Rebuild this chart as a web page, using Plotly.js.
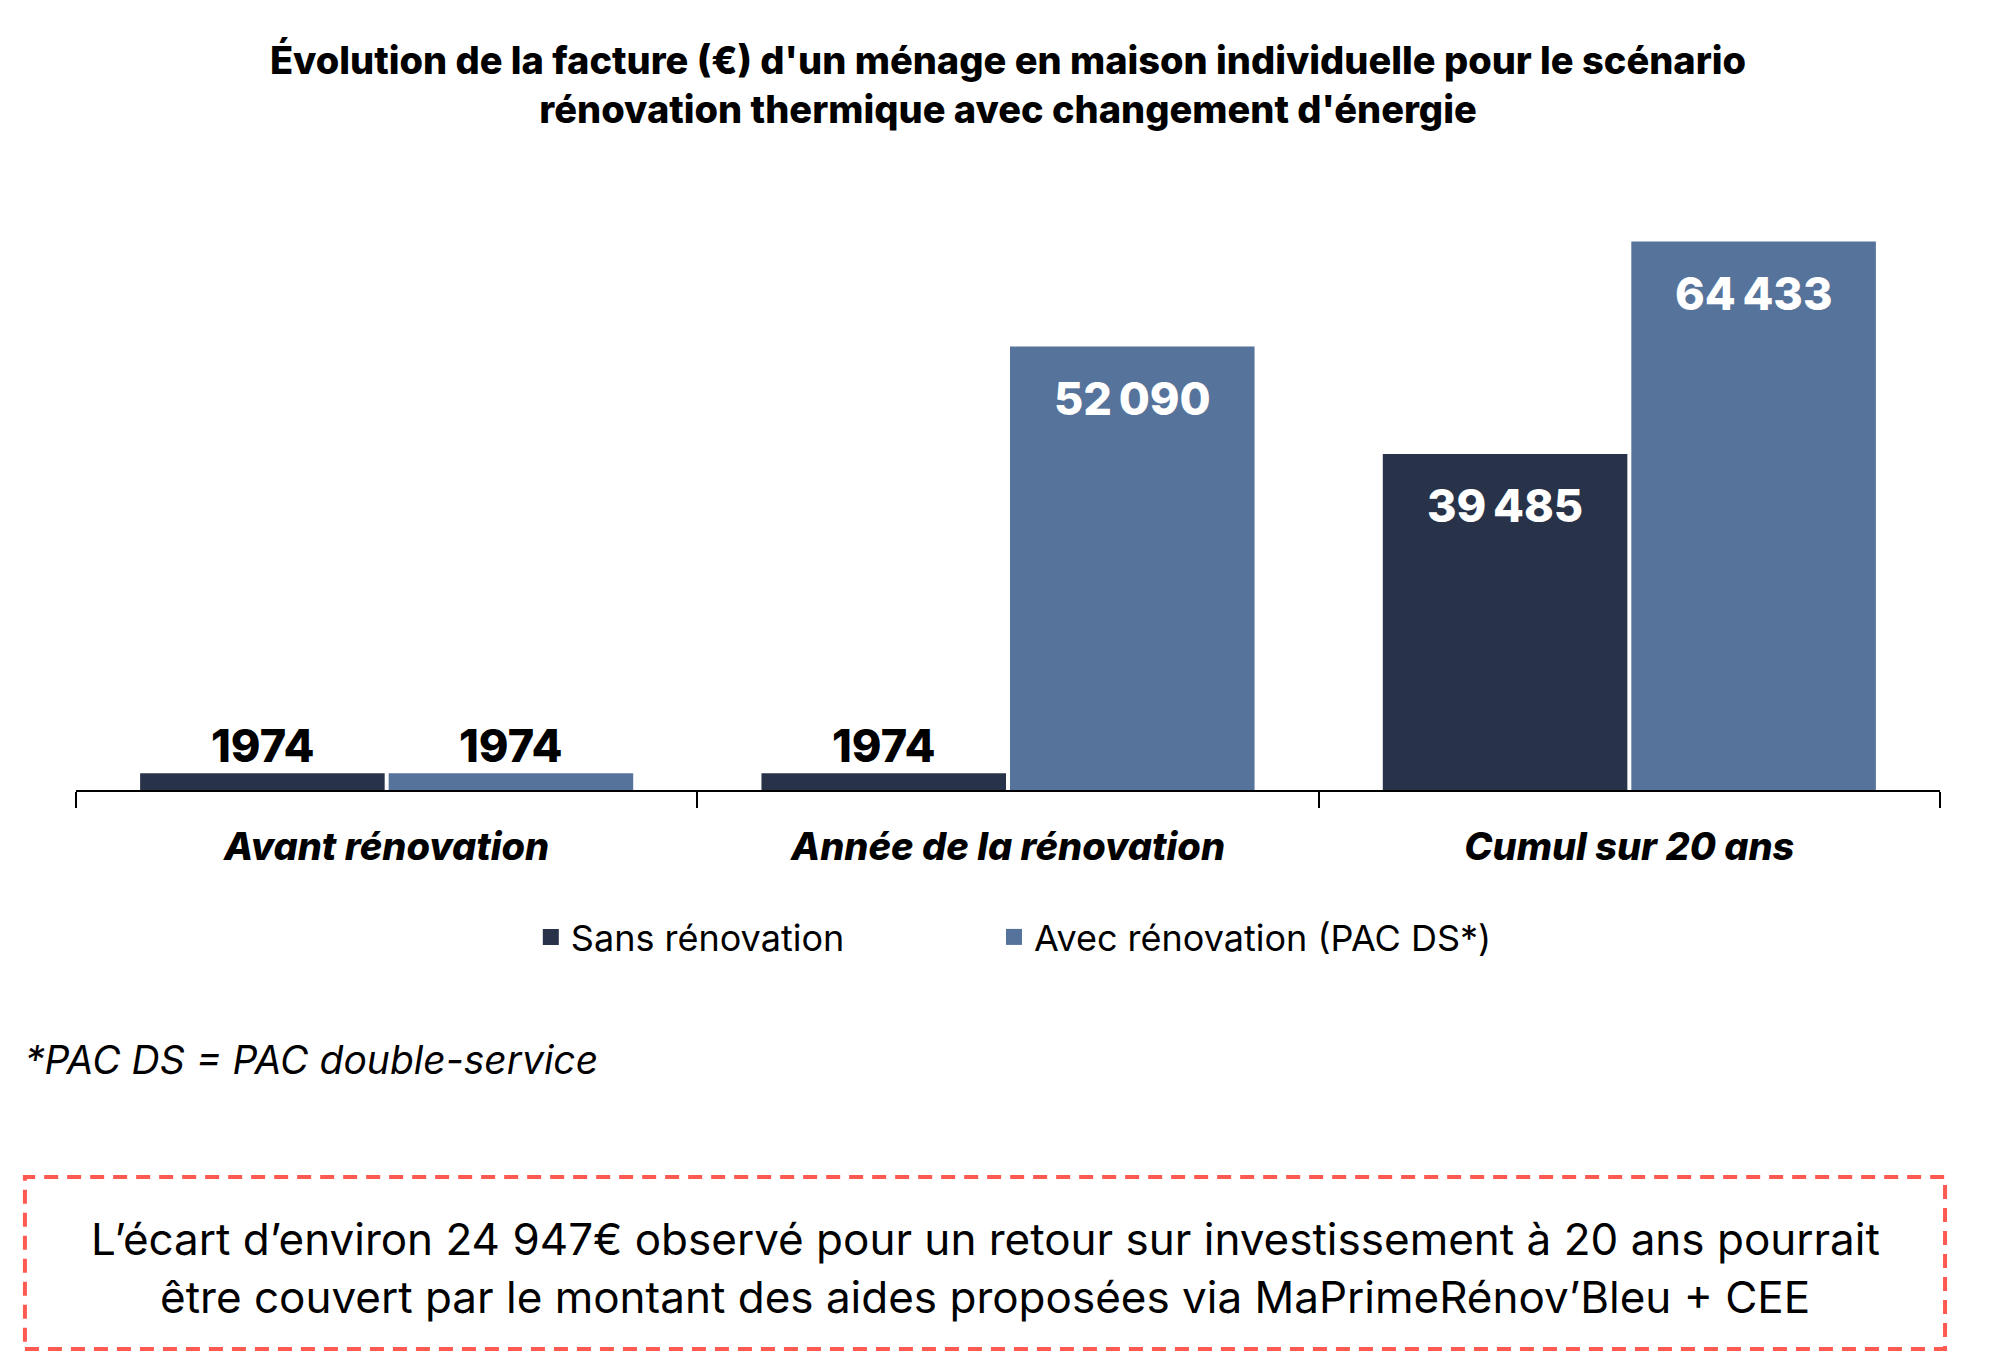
<!DOCTYPE html>
<html>
<head>
<meta charset="utf-8">
<script src="https://cdn.plot.ly/plotly-3.0.1.min.js"></script>
<style>
  html, body { margin: 0; padding: 0; background: #ffffff; }
  #chart { width: 1993px; height: 1356px; }
</style>
</head>
<body>
<div id="chart"></div>
<script>
// ---- Data ----
const categories = ['Avant rénovation', 'Année de la rénovation', 'Cumul sur 20 ans'];
const seriesNames = ['Sans rénovation', 'Avec rénovation (PAC DS*)'];
const sansRenovation = [1974, 1974, 39485];
const avecRenovation = [1974, 52090, 64433];
const titleLines = [
  "Évolution de la facture (€) d'un ménage en maison individuelle pour le scénario",
  "rénovation thermique avec changement d'énergie"
];
const footnote = '*PAC DS = PAC double-service';
const boxLines = [
  'L’écart d’environ 24 947€ observé pour un retour sur investissement à 20 ans pourrait',
  'être couvert par le montant des aides proposées via MaPrimeRénov’Bleu + CEE'
];

// ---- Styles ----
const colors = ['#283349', '#56739B'];
const boldFont = 'Inter, "Noto Sans", sans-serif';
const textFont = 'Inter, "Noto Sans", sans-serif';
const legendIds = ['legend', 'legend2'];
const legendX = [0.244, 0.4925];

function fmt(v) {
  if (v < 10000) return String(v);
  return String(v).replace(/\B(?=(\d{3})+(?!\d))/g, '\u202F');
}

const series = [sansRenovation, avecRenovation];
const traces = series.map((vals, i) => ({
  type: 'bar',
  name: seriesNames[i],
  x: categories,
  y: vals,
  marker: { color: colors[i], line: { width: 0 } },
  showlegend: false,
  hoverinfo: 'skip'
}));
// legend entries (bigger square swatches)
seriesNames.forEach((n, i) => {
  traces.push({
    type: 'scatter', mode: 'markers', name: n,
    x: [null], y: [null],
    marker: { symbol: 'square', size: 16, color: colors[i] },
    showlegend: true, legend: legendIds[i], hoverinfo: 'skip'
  });
});

const annotations = [];
const offsets = [-124, 124];
series.forEach((vals, i) => {
  vals.forEach((v, j) => {
    const inside = v > 10000;
    annotations.push({
      x: categories[j], y: v, xref: 'x', yref: 'y',
      xshift: offsets[i],
      yshift: inside ? -52 : 28,
      yanchor: 'middle', xanchor: 'center',
      text: fmt(v), showarrow: false,
      font: { family: boldFont, size: 45, weight: 800, color: inside ? '#ffffff' : '#000000' }
    });
  });
});

annotations.push({
  x: -0.0285, y: -0.441, xref: 'paper', yref: 'paper',
  xanchor: 'left', yanchor: 'middle', showarrow: false,
  text: footnote,
  font: { family: textFont, size: 39, style: 'italic', color: '#000000' }
});

const boxY = [-0.7365, -0.8316];
boxLines.forEach((t, k) => {
  annotations.push({
    x: 0.4877, y: boxY[k], xref: 'paper', yref: 'paper',
    xanchor: 'center', yanchor: 'middle', showarrow: false,
    text: t,
    font: { family: textFont, size: 44, color: '#000000' }
  });
});

function legendStyle(x) {
  return {
    orientation: 'h',
    x: x, xanchor: 'left',
    y: -0.241, yanchor: 'middle',
    itemsizing: 'trace',
    bgcolor: 'rgba(0,0,0,0)',
    font: { family: textFont, size: 36, color: '#000000' }
  };
}

const layout = {
  width: 1993, height: 1356,
  paper_bgcolor: '#ffffff', plot_bgcolor: '#ffffff',
  margin: { l: 76, r: 53, t: 180, b: 566, pad: 0 },
  title: {
    text: titleLines.join('<br>'),
    x: 0.5, xref: 'paper', xanchor: 'center',
    y: 0.9455, yref: 'container', yanchor: 'top',
    font: { family: boldFont, size: 38, weight: 800, color: '#000000' }
  },
  barmode: 'group',
  bargap: 0.2,
  bargroupgap: 0.016,
  showlegend: true,
  legend: legendStyle(legendX[0]),
  legend2: legendStyle(legendX[1]),
  xaxis: {
    type: 'category',
    showline: true, linecolor: '#000000', linewidth: 2,
    ticks: 'outside', tickson: 'boundaries', ticklen: 16, tickwidth: 2, tickcolor: '#000000',
    ticklabelstandoff: 22,
    tickfont: { family: boldFont, size: 38, weight: 800, style: 'italic', color: '#000000' },
    showgrid: false, zeroline: false,
    fixedrange: true
  },
  yaxis: {
    range: [0, 71660],
    visible: false, showgrid: false, zeroline: false, fixedrange: true
  },
  shapes: [{
    type: 'rect', xref: 'paper', yref: 'paper',
    x0: -0.0274, x1: 1.0027, y0: -0.9164, y1: -0.6344,
    line: { color: '#FF5A52', width: 4, dash: '14px,9px' },
    fillcolor: 'rgba(0,0,0,0)'
  }],
  annotations: annotations
};

Plotly.newPlot('chart', traces, layout, { displayModeBar: false, staticPlot: true });
</script>
</body>
</html>
